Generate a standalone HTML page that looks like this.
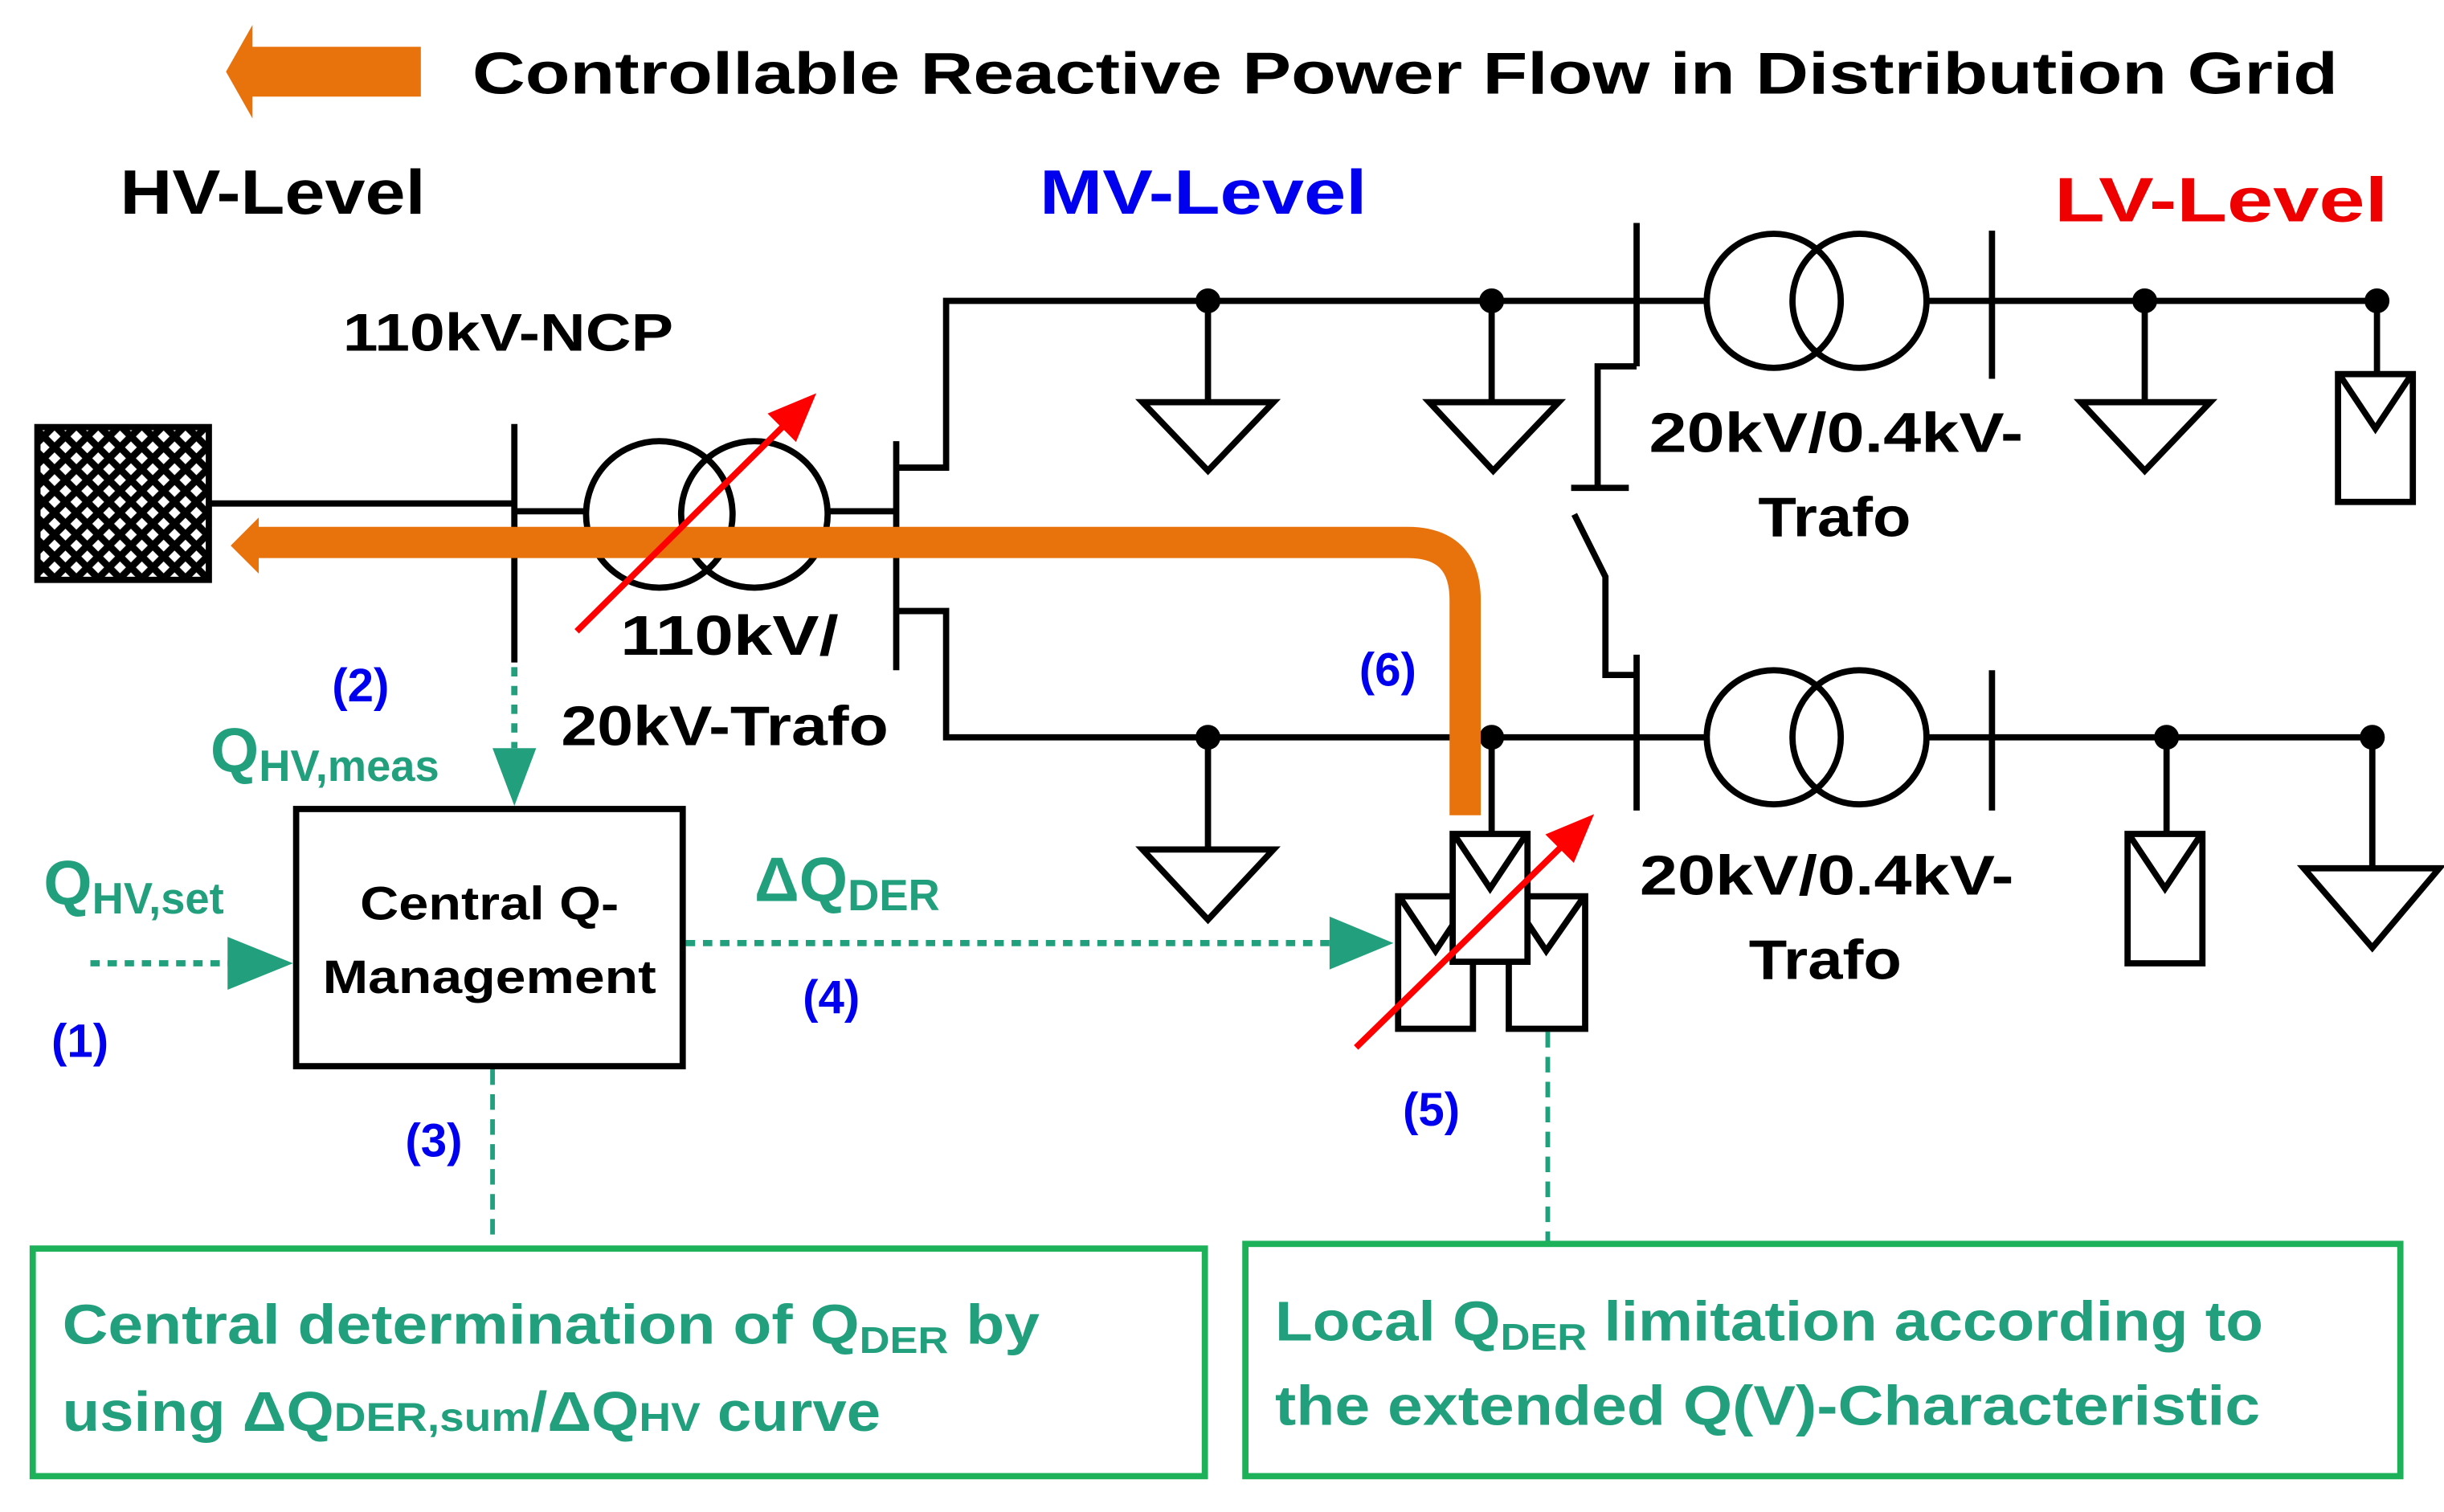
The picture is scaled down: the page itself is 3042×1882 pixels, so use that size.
<!DOCTYPE html>
<html><head><meta charset="utf-8"><style>html,body{margin:0;padding:0;background:#fff}svg{display:block}</style></head>
<body>
<svg width="3042" height="1882" viewBox="0 0 1568 970" preserveAspectRatio="none" xmlns="http://www.w3.org/2000/svg" font-family="'Liberation Sans', sans-serif" font-weight="bold">
<defs>
<pattern id="hatch" width="14" height="14" patternUnits="userSpaceOnUse">
<rect width="14" height="14" fill="#fff"/>
<path d="M0,0 L14,14 M14,0 L0,14" stroke="#000" stroke-width="4.5"/>
</pattern>
</defs>
<!-- title -->
<polygon points="145,46 162,16 162,30 270,30 270,62 162,62 162,76" fill="#E8720C"/>
<text x="303" y="60" font-size="38" textLength="1197" lengthAdjust="spacingAndGlyphs">Controllable Reactive Power Flow in Distribution Grid</text>
<text x="77" y="137" font-size="40" textLength="196" lengthAdjust="spacingAndGlyphs">HV-Level</text>
<text x="667" y="137" font-size="40" fill="#0000EE" textLength="210" lengthAdjust="spacingAndGlyphs">MV-Level</text>
<text x="1318" y="142" font-size="40" fill="#EE0000" textLength="214" lengthAdjust="spacingAndGlyphs">LV-Level</text>
<text x="220" y="225" font-size="34" textLength="212" lengthAdjust="spacingAndGlyphs">110kV-NCP</text>

<g stroke="#000" stroke-width="4" fill="none">
<rect x="24" y="274" width="110" height="98" fill="url(#hatch)"/>
<line x1="134" y1="323" x2="330" y2="323"/>
<line x1="330" y1="272" x2="330" y2="425"/>
<line x1="330" y1="328" x2="377" y2="328"/>
<circle cx="423" cy="330" r="47"/><circle cx="484" cy="330" r="47"/>
<line x1="531" y1="328" x2="575" y2="328"/>
<line x1="575" y1="283" x2="575" y2="430"/>
<polyline points="575,300 607,300 607,193 1050,193"/>
<polyline points="575,392 607,392 607,473 1050,473"/>
<!-- upper feeder loads -->
<line x1="775" y1="193" x2="775" y2="258"/><polygon points="733,258 817,258 775,302"/>
<line x1="957" y1="193" x2="957" y2="258"/><polygon points="917,258 1000,258 958,302"/>
<line x1="1050" y1="143" x2="1050" y2="235"/>
<line x1="1050" y1="193" x2="1096" y2="193"/>
<circle cx="1138" cy="193" r="43"/><circle cx="1193" cy="193" r="43"/>
<line x1="1236" y1="193" x2="1278" y2="193"/>
<line x1="1278" y1="148" x2="1278" y2="243"/>
<line x1="1278" y1="193" x2="1525" y2="193"/>
<line x1="1376" y1="193" x2="1376" y2="258"/><polygon points="1335,258 1418,258 1376,302"/>
<line x1="1525" y1="193" x2="1525" y2="240"/>
<rect x="1500" y="240" width="48" height="82"/><polyline points="1502,242 1524,275 1546,242"/>
<!-- tie switch -->
<polyline points="1050,235 1025,235 1025,313"/>
<line x1="1008" y1="313" x2="1045" y2="313"/>
<polyline points="1010,330 1030,370 1030,433 1050,433"/>
<!-- lower feeder -->
<line x1="775" y1="473" x2="775" y2="545"/><polygon points="733,545 817,545 775,590"/>
<line x1="1050" y1="420" x2="1050" y2="520"/>
<line x1="1050" y1="473" x2="1096" y2="473"/>
<circle cx="1138" cy="473" r="43"/><circle cx="1193" cy="473" r="43"/>
<line x1="1236" y1="473" x2="1278" y2="473"/>
<line x1="1278" y1="430" x2="1278" y2="520"/>
<line x1="1278" y1="473" x2="1522" y2="473"/>
<line x1="1390" y1="473" x2="1390" y2="535"/>
<rect x="1365" y="535" width="48" height="83"/><polyline points="1367,537 1389,570 1411,537"/>
<line x1="1522" y1="473" x2="1522" y2="557"/><polygon points="1478,557 1565,557 1522,608"/>
<line x1="957" y1="473" x2="957" y2="535"/>
<!-- PV cluster -->
<rect x="897" y="575" width="48" height="85" fill="#fff"/><polyline points="899,577 921,610 943,577"/>
<rect x="968" y="575" width="49" height="85" fill="#fff"/><polyline points="970,577 992,610 1015,577"/>
<rect x="932" y="535" width="48" height="82" fill="#fff"/><polyline points="934,537 956,570 978,537"/>
</g>
<g fill="#000">
<circle cx="775" cy="193" r="8"/><circle cx="957" cy="193" r="8"/><circle cx="1376" cy="193" r="8"/><circle cx="1525" cy="193" r="8"/>
<circle cx="775" cy="473" r="8"/><circle cx="957" cy="473" r="8"/><circle cx="1390" cy="473" r="8"/><circle cx="1522" cy="473" r="8"/>
</g>
<!-- orange flow -->
<path d="M940,523 L940,385 Q940,348 903,348 L165,348" stroke="#E8720C" stroke-width="20" fill="none"/>
<polygon points="148,350 166,332 166,368" fill="#E8720C"/>
<!-- red arrows -->
<g stroke="#F00" stroke-width="4" fill="#F00">
<line x1="370" y1="405" x2="505" y2="271"/><polygon points="520,256 496,266 510,280"/>
<line x1="870" y1="672" x2="1005" y2="540"/><polygon points="1019,526 995,536 1009,550"/>
</g>
<!-- labels -->
<text x="398" y="420" font-size="36" textLength="140" lengthAdjust="spacingAndGlyphs">110kV/</text>
<text x="360" y="478" font-size="36" textLength="210" lengthAdjust="spacingAndGlyphs">20kV-Trafo</text>
<text x="1058" y="290" font-size="36" textLength="240" lengthAdjust="spacingAndGlyphs">20kV/0.4kV-</text>
<text x="1128" y="344" font-size="36" textLength="98" lengthAdjust="spacingAndGlyphs">Trafo</text>
<text x="1052" y="574" font-size="36" textLength="240" lengthAdjust="spacingAndGlyphs">20kV/0.4kV-</text>
<text x="1122" y="628" font-size="36" textLength="98" lengthAdjust="spacingAndGlyphs">Trafo</text>
<g fill="#0000EE" font-size="30">
<text x="213" y="450">(2)</text><text x="33" y="678">(1)</text><text x="515" y="650">(4)</text>
<text x="872" y="440">(6)</text><text x="900" y="722">(5)</text><text x="260" y="742">(3)</text>
</g>
<g fill="#22A07E">
<text x="135" y="495" font-size="40">Q<tspan font-size="28" dy="6">HV,meas</tspan></text>
<text x="28" y="580" font-size="40">Q<tspan font-size="28" dy="6">HV,set</tspan></text>
<text x="484" y="578" font-size="40">ΔQ<tspan font-size="28" dy="6">DER</tspan></text>
</g>
<g stroke="#22A07E" stroke-width="4" fill="none">
<line x1="330" y1="428" x2="330" y2="480" stroke-dasharray="6,6"/>
<line x1="58" y1="618" x2="148" y2="618" stroke-dasharray="6,5"/>
<line x1="440" y1="605" x2="855" y2="605" stroke-dasharray="6,5"/>
<line x1="316" y1="686" x2="316" y2="798" stroke-dasharray="10,6" stroke-width="3"/>
<line x1="993" y1="662" x2="993" y2="797" stroke-dasharray="10,6" stroke-width="3"/>
</g>
<g fill="#22A07E">
<polygon points="316,480 344,480 330,517"/>
<polygon points="146,601 146,635 188,618"/>
<polygon points="853,588 853,622 894,605"/>
</g>
<rect x="190" y="519" width="248" height="165" fill="#fff" stroke="#000" stroke-width="4"/>
<text x="314" y="590" font-size="30" text-anchor="middle" textLength="166" lengthAdjust="spacingAndGlyphs">Central Q-</text>
<text x="314" y="637" font-size="30" text-anchor="middle" textLength="214" lengthAdjust="spacingAndGlyphs">Management</text>
<!-- green boxes -->
<rect x="21" y="801" width="752" height="146" fill="none" stroke="#1DB15A" stroke-width="4"/>
<rect x="799" y="798" width="741" height="149" fill="none" stroke="#1DB15A" stroke-width="4"/>
<g fill="#22A07E" font-size="36">
<text x="40" y="862" textLength="627" lengthAdjust="spacingAndGlyphs">Central determination of Q<tspan font-size="24" dy="6">DER</tspan><tspan dy="-6"> by</tspan></text>
<text x="40" y="918" textLength="525" lengthAdjust="spacingAndGlyphs">using ΔQ<tspan font-size="26">DER,sum</tspan>/ΔQ<tspan font-size="26">HV</tspan> curve</text>
<text x="818" y="860" textLength="634" lengthAdjust="spacingAndGlyphs">Local Q<tspan font-size="24" dy="6">DER</tspan><tspan dy="-6"> limitation according to</tspan></text>
<text x="818" y="914" textLength="632" lengthAdjust="spacingAndGlyphs">the extended Q(V)-Characteristic</text>
</g>
</svg>
</body></html>
